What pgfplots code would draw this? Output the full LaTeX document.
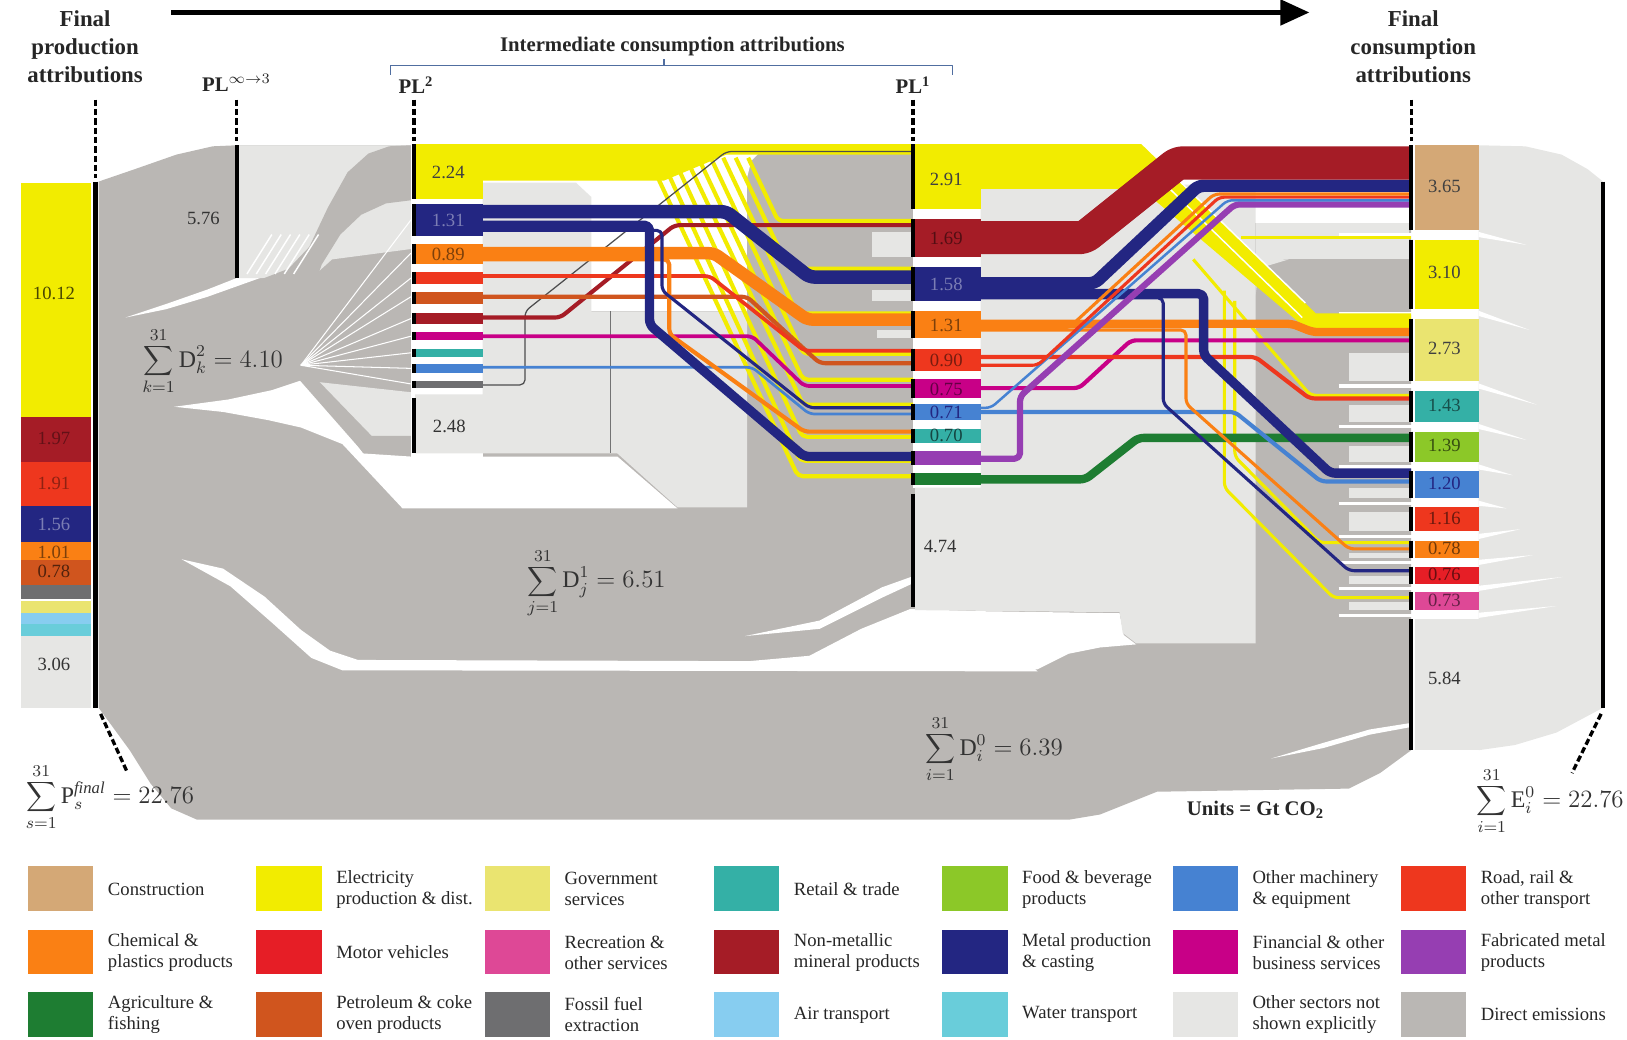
\documentclass[border=0pt]{standalone}
\usepackage{pgfplots}
\pgfplotsset{compat=1.18}
\usepackage{fontspec}
\setmainfont{Liberation Serif}
\usetikzlibrary{arrows.meta}

\definecolor{cCons}{RGB}{212,168,118}
\definecolor{cElec}{RGB}{242,236,0}
\definecolor{cGov}{RGB}{234,228,112}
\definecolor{cRet}{RGB}{52,176,166}
\definecolor{cFood}{RGB}{140,200,40}
\definecolor{cMach}{RGB}{70,130,210}
\definecolor{cRoad}{RGB}{238,55,30}
\definecolor{cChem}{RGB}{250,128,20}
\definecolor{cMotor}{RGB}{230,30,38}
\definecolor{cRec}{RGB}{222,72,150}
\definecolor{cNonm}{RGB}{165,28,38}
\definecolor{cMetal}{RGB}{35,38,130}
\definecolor{cFin}{RGB}{200,0,135}
\definecolor{cFab}{RGB}{150,62,178}
\definecolor{cAgri}{RGB}{30,125,50}
\definecolor{cPetr}{RGB}{208,85,30}
\definecolor{cFoss}{RGB}{110,110,112}
\definecolor{cAir}{RGB}{135,205,240}
\definecolor{cWater}{RGB}{105,205,218}
\definecolor{cOther}{RGB}{230,230,228}
\definecolor{cDirect}{RGB}{186,183,180}
\definecolor{cBrack}{RGB}{80,110,160}

% shapes in picture coordinates (x right, y down)
\newcommand{\rect}[5]{\addplot[fill=#5, draw=none] coordinates {(#1,#2) (#3,#2) (#3,#4) (#1,#4)};}
\newcommand{\poly}[2]{\addplot[fill=#1, draw=none] coordinates {#2};}
\newcommand{\flow}[3]{\addplot[draw=#1, line width=#2, rounded corners=2.5pt] coordinates {#3};}
\newcommand{\lbl}[4]{\node[font=\fontsize{9}{10}\selectfont, text=#4] at (axis cs:#1,#2) {#3};}
\newcommand{\whwedge}[5]{\addplot[fill=white, draw=none] coordinates {(1425,#1) (#3,#4) (1425,#2)};}
\newcommand{\legtext}[3]{\node[anchor=west, align=left, font=\fontsize{9}{10}\selectfont, text=black!85] at (axis cs:#1,#2) {#3};}

\begin{document}
\begin{tikzpicture}
\begin{axis}[
  width=784pt, height=501pt, scale only axis,
  xmin=0, xmax=1568, ymin=0, ymax=1002, y dir=reverse,
  axis lines=none, ticks=none, clip=false, no markers,
  every axis plot/.append style={line join=round},
]

% ---- direct emissions (gray) base
\poly{cDirect}{(95,175) (130,163) (170,149) (205,141) (228,140) (1360,140) (1360,723)
  (1330,745) (1300,760) (1115,763) (1060,785) (1030,790) (190,790) (165,779) (145,755) (125,723) (95,682)}

% ---- white gaps
\rect{396}{139}{720}{300}{white}
\rect{396}{300}{465}{440}{white}
\rect{880}{139}{945}{470}{white}
\rect{945}{139}{1361}{215}{white}
\poly{white}{(719,139) (755,139) (735,144) (724,155) (719,175)}
\poly{white}{(121,306) (160,293) (200,279) (228,268) (256,266) (228,276) (200,286) (160,298)}
\poly{white}{(168,392) (220,385) (262,376) (292,366) (322,398) (350,437) (396,440) (595,440)
  (653,490) (388,490) (330,428) (290,412) (259,405) (215,397)}
\poly{white}{(175,539) (215,548) (255,575) (290,607) (318,627) (345,636) (990,638) (1000,647)
  (330,646) (300,634) (262,600) (222,565)}
\poly{white}{(690,640) (780,632) (830,606) (877,587) (945,589) (1079,591) (1083,612) (1095,621)
  (1060,624) (1030,630) (1000,645) (690,645)}
\poly{white}{(718,613) (790,598) (850,566) (878,556) (878,563) (850,576) (790,606)}
\poly{white}{(1225,731) (1275,716) (1320,703) (1358,697) (1358,701) (1320,708) (1275,721)}

% ---- other sectors (light gray)
\poly{cOther}{(229,140) (396,140) (396,240) (320,250) (300,268) (229,268)}
\poly{cOther}{(400,380) (465,380) (465,176) (555,176) (570,190) (570,300) (720,300) (720,489)
  (653,489) (595,437) (400,437)}
\poly{cOther}{(945,178) (1210,178) (1210,620) (1095,620) (1082,610) (1079,590) (882,588) (882,470) (945,470)}
\rect{1210}{215}{1358}{250}{cOther}
\poly{cOther}{(1210,249) (1242,250) (1222,256) (1212,268) (1210,285)}
\poly{cOther}{(1425,140) (1470,141) (1505,149) (1530,163) (1545,175) (1545,682) (1530,690)
  (1500,706) (1460,718) (1425,723)}
\rect{840}{224}{880}{248}{cOther}
\rect{840}{279}{880}{290}{cOther}
\rect{845}{318}{880}{326}{cOther}
\rect{1300}{340}{1358}{367}{cOther}
\rect{1300}{390}{1358}{407}{cOther}
\rect{1300}{430}{1358}{445}{cOther}
\rect{1300}{470}{1358}{480}{cOther}
\rect{1300}{493}{1358}{512}{cOther}
\rect{1300}{533}{1358}{538}{cOther}
\rect{1300}{555}{1358}{563}{cOther}
\rect{1300}{580}{1358}{588}{cOther}

% ---- D2 lobe, fan and lower band at PL2
\poly{cDirect}{(252,269) (278,259) (298,238) (316,200) (335,166) (355,148) (375,141) (396,140)
  (396,193) (372,196) (348,207) (328,226) (310,255) (298,290) (275,300)}
\poly{cOther}{(305,368) (396,378) (396,420) (358,420)}
\poly{cDirect}{(285,362) (300,360) (358,420) (396,420) (396,436) (350,436)}
\foreach \yy in {212,244,268,286,307,324,340,355,370}{
  \edef\tmp{\noexpand\addplot[draw=white, line width=0.5pt] coordinates {(290,352) (396,\yy)};}\tmp}
\foreach \k in {0,...,5}{
  \edef\tmp{\noexpand\addplot[draw=white, line width=0.7pt] coordinates {(\the\numexpr 238+9*\k\relax,264) (\the\numexpr 262+9*\k\relax,226)};}\tmp}
\addplot[draw=black!55, line width=0.5pt] coordinates {(588,300) (588,437)};

% ---- right-bar white separators
\foreach \g in {226,302,372,411,450,485,517,542,567,593}{
  \edef\tmp{\noexpand\addplot[draw=white, line width=1.6pt] coordinates {(1290,\g) (1362,\g)};}\tmp}

% ---- flows PL2 -> PL1
\poly{cElec}{(465,139) (880,139) (880,149) (700,149) (640,174) (465,174)}
\flow{cElec}{2pt}{(625,152) (769,459) (880,459)}
\flow{cElec}{2pt}{(637,152) (771,444) (880,444)}
\flow{cElec}{2pt}{(649,152) (773,421) (880,421)}
\flow{cElec}{2pt}{(661,152) (774,390) (880,390)}
\flow{cElec}{2pt}{(673,152) (774,366) (880,366)}
\flow{cElec}{2pt}{(685,152) (774,341) (880,341)}
\flow{cElec}{2pt}{(697,152) (768,302) (880,302)}
\flow{cElec}{2pt}{(709,152) (760,259) (880,259)}
\flow{cElec}{2pt}{(721,152) (750,213) (880,213)}
\flow{cFoss!70!black}{0.6pt}{(464,371) (506,371) (506,300) (700,146) (880,146)}
\flow{cMach}{1.3pt}{(464,354) (725,354) (780,399) (880,399)}
\flow{cFin}{1.8pt}{(464,324) (725,324) (775,372) (880,372)}
\flow{cNonm}{2pt}{(464,306) (540,306) (650,217) (880,217)}
\flow{cPetr}{2pt}{(464,286) (720,286) (790,350) (880,350)}
\flow{cRoad}{1.8pt}{(464,266) (684,266) (775,338) (880,338)}
\flow{cChem}{2pt}{(464,250) (645,250) (645,322) (775,416) (880,416)}
\flow{cChem}{6pt}{(464,244) (688,244) (778,308) (880,308)}
\flow{cMetal}{1.5pt}{(464,222) (638,222) (638,280) (780,393) (880,393)}
\flow{cMetal}{4.5pt}{(464,217) (626,217) (626,313) (775,440) (880,440)}
\flow{cMetal}{6.5pt}{(464,204) (700,204) (780,267) (880,267)}

% ---- flows PL1 -> final consumption
\poly{cElec}{(945,139) (1100,139) (1268,302) (1360,302) (1360,316) (1258,316) (1100,182) (945,182)}
\addplot[draw=white, line width=0.7pt] coordinates {(1115,170) (1255,306)};
\addplot[draw=white, line width=0.7pt] coordinates {(1130,168) (1258,292)};
\flow{cElec}{1.5pt}{(1196,229) (1360,229)}
\flow{cElec}{1.5pt}{(1150,250) (1263,381) (1360,381)}
\flow{cElec}{1.5pt}{(1190,290) (1190,440) (1272,523) (1360,523)}
\flow{cElec}{1.5pt}{(1180,280) (1180,470) (1285,576) (1360,576)}
\flow{cAgri}{4pt}{(945,462) (1046,462) (1097,422) (1360,422)}
\flow{cMach}{2pt}{(945,397) (1190,397) (1273,464) (1360,464)}
\flow{cFin}{2pt}{(945,374) (1040,374) (1090,328) (1360,328)}
\flow{cRoad}{2pt}{(945,344) (1210,344) (1262,384) (1360,384)}
\flow{cChem}{1.5pt}{(945,318) (1143,318) (1143,389) (1300,529) (1360,529)}
\flow{cChem}{4pt}{(945,312) (1245,312) (1265,320) (1360,320)}
\flow{cMetal}{1.5pt}{(945,287) (1121,287) (1121,389) (1300,550) (1360,550)}
\flow{cMetal}{4.5pt}{(945,283) (1160,283) (1160,342) (1282,456) (1360,456)}
\flow{cFab}{3pt}{(945,442) (983,442) (983,382) (1190,197) (1360,197)}
\flow{cMach}{1.2pt}{(945,393) (955,393) (1183,193) (1360,193)}
\flow{cRoad}{1.5pt}{(945,352) (1000,352) (1175,190) (1360,190)}
\flow{cChem}{1.5pt}{(945,316) (1030,316) (1170,187) (1360,187)}
\flow{cMetal}{6pt}{(945,273) (1055,273) (1155,179) (1360,179)}
\flow{cNonm}{16pt}{(945,229) (1045,229) (1135,157) (1360,157)}

% ---- final production bar
\rect{20}{176}{88}{402}{cElec}
\rect{20}{402}{88}{445}{cNonm}
\rect{20}{445}{88}{488}{cRoad}
\rect{20}{488}{88}{522}{cMetal}
\rect{20}{522}{88}{540}{cChem}
\rect{20}{540}{88}{564}{cPetr}
\rect{20}{564}{88}{577}{cFoss}
\rect{20}{579}{88}{591}{cGov}
\rect{20}{591}{88}{601}{cAir}
\rect{20}{601}{88}{613}{cWater}
\rect{20}{613}{88}{682}{cOther}

% ---- PL2 boxes
\rect{400}{139}{465}{192}{cElec}
\rect{400}{197}{465}{227}{cMetal}
\rect{400}{235}{465}{254}{cChem}
\rect{400}{262}{465}{274}{cRoad}
\rect{400}{281}{465}{293}{cPetr}
\rect{400}{302}{465}{312}{cNonm}
\rect{400}{320}{465}{328}{cFin}
\rect{400}{336}{465}{344}{cRet}
\rect{400}{351}{465}{359}{cMach}
\rect{400}{367}{465}{374}{cFoss}

% ---- PL1 boxes
\rect{882}{139}{945}{201}{cElec}
\rect{882}{211}{945}{248}{cNonm}
\rect{882}{257}{945}{290}{cMetal}
\rect{882}{300}{945}{326}{cChem}
\rect{882}{336}{945}{358}{cRoad}
\rect{882}{365}{945}{384}{cFin}
\rect{882}{389}{945}{405}{cMach}
\rect{882}{413}{945}{427}{cRet}
\rect{882}{435}{945}{448}{cFab}
\rect{882}{456}{945}{467}{cAgri}

% ---- final consumption boxes
\rect{1364}{140}{1425}{222}{cCons}
\rect{1364}{231}{1425}{298}{cElec}
\rect{1364}{307}{1425}{367}{cGov}
\rect{1364}{377}{1425}{407}{cRet}
\rect{1364}{416}{1425}{445}{cFood}
\rect{1364}{454}{1425}{480}{cMach}
\rect{1364}{489}{1425}{512}{cRoad}
\rect{1364}{521}{1425}{538}{cChem}
\rect{1364}{546}{1425}{563}{cMotor}
\rect{1364}{571}{1425}{588}{cRec}
\rect{1364}{597}{1425}{723}{cOther}
\whwedge{223.5}{228.5}{1471}{236}{}
\whwedge{299.5}{304.5}{1474}{318}{}
\whwedge{369.5}{374.5}{1481}{390}{}
\whwedge{408.5}{413.5}{1471}{424}{}
\whwedge{447.5}{452.5}{1458}{458}{}
\whwedge{482.5}{487.5}{1452}{490}{}
\whwedge{514.5}{519.5}{1465}{510}{}
\whwedge{539.5}{544.5}{1477}{535}{}
\whwedge{564.5}{569.5}{1506}{556}{}
\whwedge{590.5}{595.5}{1500}{584}{}

% ---- black bars
\addplot[draw=black, line width=2pt] coordinates {(92,175) (92,682)};
\addplot[draw=black, line width=2pt] coordinates {(228,140) (228,268)};
\addplot[draw=black, line width=2pt] coordinates {(1545,175) (1545,682)};
\foreach \a/\b in {139/192,197/227,235/254,262/274,281/293,302/312,320/328,336/344,351/359,367/374,384/437}{
  \edef\tmp{\noexpand\addplot[draw=black, line width=2pt] coordinates {(399,\a) (399,\b)};}\tmp}
\foreach \a/\b in {139/201,211/248,257/290,300/326,336/358,365/384,389/405,413/427,435/448,456/467,476/585}{
  \edef\tmp{\noexpand\addplot[draw=black, line width=2pt] coordinates {(880,\a) (880,\b)};}\tmp}
\foreach \a/\b in {140/222,231/298,307/367,377/407,416/445,454/480,489/512,521/538,546/563,571/588,597/723}{
  \edef\tmp{\noexpand\addplot[draw=black, line width=2pt] coordinates {(1360,\a) (1360,\b)};}\tmp}

% ---- dashed markers
\addplot[draw=black, line width=1.6pt, dash pattern=on 3pt off 1.5pt] coordinates {(92,96) (92,172)};
\addplot[draw=black, line width=1.6pt, dash pattern=on 3pt off 1.5pt] coordinates {(228,96) (228,136)};
\addplot[draw=black, line width=1.6pt, dash pattern=on 3pt off 1.5pt] coordinates {(399,96) (399,136)};
\addplot[draw=black, line width=1.6pt, dash pattern=on 3pt off 1.5pt] coordinates {(880,96) (880,136)};
\addplot[draw=black, line width=1.6pt, dash pattern=on 3pt off 1.5pt] coordinates {(1360,96) (1360,136)};
\addplot[draw=black, line width=1.6pt, dash pattern=on 3pt off 1.5pt] coordinates {(97,688) (123,745)};
\addplot[draw=black, line width=1.6pt, dash pattern=on 3pt off 1.5pt] coordinates {(1543,688) (1515,745)};

% ---- top arrow and bracket
\addplot[draw=black, line width=2.5pt, -{Triangle[length=14pt, width=12pt]}] coordinates {(165,12) (1262,12)};
\addplot[draw=cBrack, line width=0.6pt] coordinates {(376,72) (376,63) (918,63) (918,72)};
\addplot[draw=cBrack, line width=0.6pt] coordinates {(640,63) (640,57)};

% ---- headings
\node[align=center, font=\fontsize{11}{13.5}\selectfont\bfseries, text=black!85] at (axis cs:82,45) {Final\\production\\attributions};
\node[align=center, font=\fontsize{11}{13.5}\selectfont\bfseries, text=black!85] at (axis cs:1362,45) {Final\\consumption\\attributions};
\node[font=\fontsize{10}{12}\selectfont\bfseries, text=black!85] at (axis cs:648,45) {Intermediate consumption attributions};
\node[font=\fontsize{10}{12}\selectfont\bfseries, text=black!85] at (axis cs:228,80) {PL$^{\infty\rightarrow 3}$};
\node[font=\fontsize{10}{12}\selectfont\bfseries, text=black!85] at (axis cs:401,82) {PL$^{\mathbf{2}}$};
\node[font=\fontsize{10}{12}\selectfont\bfseries, text=black!85] at (axis cs:880,82) {PL$^{\mathbf{1}}$};

% ---- values
\lbl{52}{283}{10.12}{cElec!30!black}
\lbl{52}{423}{1.97}{cNonm!60!black}
\lbl{52}{466}{1.91}{cRoad!60!black}
\lbl{52}{505}{1.56}{cMetal!60!white}
\lbl{52}{532}{1.01}{cChem!50!black}
\lbl{52}{551}{0.78}{cPetr!40!black}
\lbl{52}{640}{3.06}{black!80}
\lbl{196}{211}{5.76}{black!80}
\lbl{432}{166}{2.24}{black!75}
\lbl{432}{212}{1.31}{cMetal!60!white}
\lbl{432}{245}{0.89}{cChem!50!black}
\lbl{433}{411}{2.48}{black!80}
\lbl{912}{173}{2.91}{black!75}
\lbl{912}{230}{1.69}{cNonm!50!black}
\lbl{912}{274}{1.58}{cMetal!60!white}
\lbl{912}{314}{1.31}{cChem!50!black}
\lbl{912}{347}{0.90}{cRoad!50!black}
\lbl{912}{375}{0.75}{cFin!50!black}
\lbl{912}{397}{0.71}{cMetal}
\lbl{912}{420}{0.70}{cRet!40!black}
\lbl{906}{527}{4.74}{black!80}
\lbl{1392}{180}{3.65}{black!75}
\lbl{1392}{263}{3.10}{black!75}
\lbl{1392}{336}{2.73}{black!75}
\lbl{1392}{391}{1.43}{cRet!45!black}
\lbl{1392}{429}{1.39}{cFood!40!black}
\lbl{1392}{466}{1.20}{cMetal}
\lbl{1392}{500}{1.16}{cRoad!45!black}
\lbl{1392}{529}{0.78}{cChem!45!black}
\lbl{1392}{554}{0.76}{cMotor!45!black}
\lbl{1392}{579}{0.73}{cRec!45!black}
\lbl{1392}{654}{5.84}{black!80}

% ---- sums
\node[font=\fontsize{11.5}{14}\selectfont, text=black!80] at (axis cs:205,348) {$\displaystyle\sum_{k=1}^{31}\mathrm{D}_k^2 = 4.10$};
\node[font=\fontsize{11.5}{14}\selectfont, text=black!80] at (axis cs:575,562) {$\displaystyle\sum_{j=1}^{31}\mathrm{D}_j^1 = 6.51$};
\node[font=\fontsize{11.5}{14}\selectfont, text=black!80] at (axis cs:958,722) {$\displaystyle\sum_{i=1}^{31}\mathrm{D}_i^0 = 6.39$};
\node[font=\fontsize{11.5}{14}\selectfont, text=black!80] at (axis cs:106,768) {$\displaystyle\sum_{s=1}^{31}\mathrm{P}_s^{\mathit{final}} = 22.76$};
\node[font=\fontsize{11.5}{14}\selectfont, text=black!80] at (axis cs:1494,772) {$\displaystyle\sum_{i=1}^{31}\mathrm{E}_i^0 = 22.76$};
\node[font=\fontsize{10}{12}\selectfont\bfseries, text=black!85] at (axis cs:1210,780) {Units = Gt CO$_\mathbf{2}$};

% ---- legend
\rect{27}{835}{90}{878}{cCons}      \legtext{97}{857}{Construction}
\rect{247}{835}{310}{878}{cElec}    \legtext{317}{857}{Electricity\\production \& dist.}
\rect{467}{835}{530}{878}{cGov}     \legtext{537}{857}{Government\\services}
\rect{688}{835}{751}{878}{cRet}     \legtext{758}{857}{Retail \& trade}
\rect{908}{835}{971}{878}{cFood}    \legtext{978}{857}{Food \& beverage\\products}
\rect{1130}{835}{1193}{878}{cMach}  \legtext{1200}{857}{Other machinery\\\& equipment}
\rect{1350}{835}{1413}{878}{cRoad}  \legtext{1420}{857}{Road, rail \&\\other transport}
\rect{27}{896}{90}{939}{cChem}      \legtext{97}{918}{Chemical \&\\plastics products}
\rect{247}{896}{310}{939}{cMotor}   \legtext{317}{918}{Motor vehicles}
\rect{467}{896}{530}{939}{cRec}     \legtext{537}{918}{Recreation \&\\other services}
\rect{688}{896}{751}{939}{cNonm}    \legtext{758}{918}{Non-metallic\\mineral products}
\rect{908}{896}{971}{939}{cMetal}   \legtext{978}{918}{Metal production\\\& casting}
\rect{1130}{896}{1193}{939}{cFin}   \legtext{1200}{918}{Financial \& other\\business services}
\rect{1350}{896}{1413}{939}{cFab}   \legtext{1420}{918}{Fabricated metal\\products}
\rect{27}{956}{90}{999}{cAgri}      \legtext{97}{978}{Agriculture \&\\fishing}
\rect{247}{956}{310}{999}{cPetr}    \legtext{317}{978}{Petroleum \& coke\\oven products}
\rect{467}{956}{530}{999}{cFoss}    \legtext{537}{978}{Fossil fuel\\extraction}
\rect{688}{956}{751}{999}{cAir}     \legtext{758}{978}{Air transport}
\rect{908}{956}{971}{999}{cWater}   \legtext{978}{978}{Water transport}
\rect{1130}{956}{1193}{999}{cOther} \legtext{1200}{978}{Other sectors not\\shown explicitly}
\rect{1350}{956}{1413}{999}{cDirect} \legtext{1420}{978}{Direct emissions}

\end{axis}
\pgfresetboundingbox
\path[use as bounding box] (current axis.south west) rectangle (current axis.north east);
\end{tikzpicture}
\end{document}
